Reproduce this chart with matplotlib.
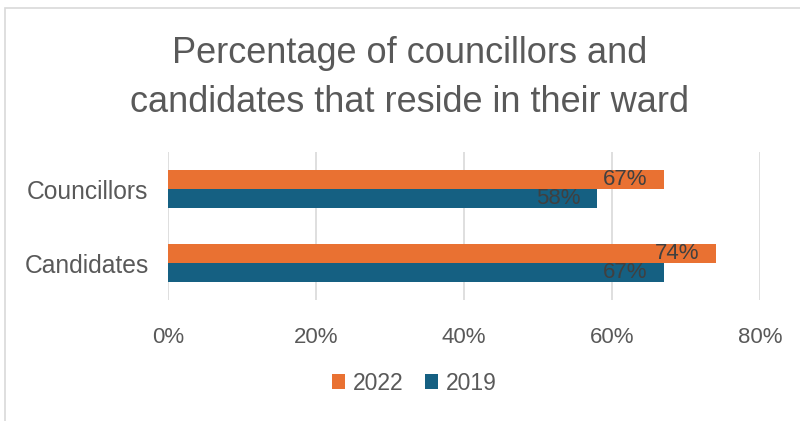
import matplotlib.pyplot as plt
import matplotlib.patches as mpatches
import numpy as np

plt.rcParams['font.family'] = ['Liberation Sans', 'DejaVu Sans']

# 数据
categories = ['Councillors', 'Candidates']
vals_2022 = [67, 74]
vals_2019 = [58, 67]
series_names = ['2022', '2019']
colors = ['#E97132', '#156082']
text_color = '#595959'

fig = plt.figure(figsize=(8, 4.21), dpi=100)
ax = fig.add_axes([0.21, 0.287, 0.74, 0.352])

y = np.arange(len(categories))
h = 0.26
b22 = ax.barh(y - h / 2, vals_2022, height=h, color=colors[0], label=series_names[0])
b19 = ax.barh(y + h / 2, vals_2019, height=h, color=colors[1], label=series_names[1])

# 数据标签：放在柱子内侧末端
for yy, vals in ((y - h / 2, vals_2022), (y + h / 2, vals_2019)):
    for yi, v in zip(yy, vals):
        ax.annotate(f'{v}%', xy=(v, yi), xytext=(-12, 0), textcoords='offset points',
                    ha='right', va='center', fontsize=16, color='#404040')

ax.set_ylim(1.5, -0.5)
ax.set_xlim(0, 80)
ax.set_xticks([0, 20, 40, 60, 80])
ax.set_xticklabels([f'{t}%' for t in [0, 20, 40, 60, 80]], fontsize=16, color=text_color)
ax.set_yticks(y)
ax.set_yticklabels(categories, fontsize=17.7, color=text_color)
ax.tick_params(length=0, pad=14)
ax.tick_params(axis='x', pad=19)
ax.grid(axis='x', color='#D9D9D9', linewidth=1.2)
ax.set_axisbelow(True)
for s in ax.spines.values():
    s.set_visible(False)

fig.text(0.512, 0.815, 'Percentage of councillors and\ncandidates that reside in their ward',
         ha='center', va='center', fontsize=26, color=text_color, linespacing=1.52)

fig.legend(handles=[b22, b19], loc='center', bbox_to_anchor=(0.518, 0.09), ncol=2,
           frameon=False, fontsize=16.5, handlelength=0.6, handleheight=0.6,
           columnspacing=0.9, handletextpad=0.35, labelcolor=text_color)

# 外框
fig.patches.append(mpatches.Rectangle((5 / 800, -0.1), 1.2, 1 - 8 / 421 + 0.1,
                                      transform=fig.transFigure, fill=False,
                                      edgecolor='#D9D9D9', linewidth=1.2))

fig.savefig('out.png', dpi=100)
